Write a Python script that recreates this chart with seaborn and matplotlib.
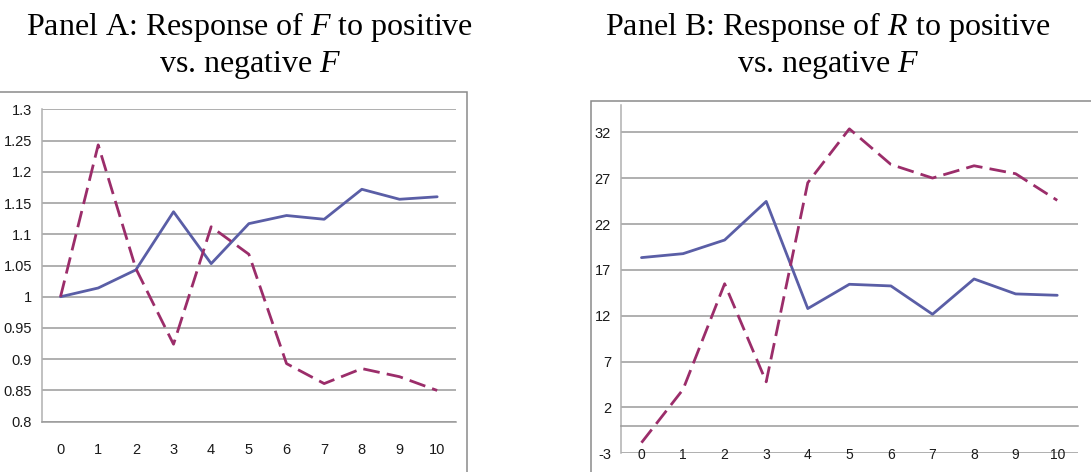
import matplotlib
matplotlib.use("Agg")
import matplotlib.pyplot as plt
from matplotlib.patches import Rectangle
import pandas as pd
import seaborn as sns

# horizon (periods after the shock)
periods = list(range(11))

# Panel A: response of F
f_pos = [1.0, 1.014, 1.043, 1.136, 1.053, 1.117, 1.130, 1.124, 1.172, 1.156, 1.160]
f_neg = [1.0, 1.243, 1.045, 0.924, 1.112, 1.068, 0.893, 0.861, 0.885, 0.872, 0.850]

# Panel B: response of R
r_pos = [18.35, 18.78, 20.27, 24.48, 12.79, 15.44, 15.26, 12.17, 16.02, 14.39, 14.24]
r_neg = [-1.84, 3.97, 15.5, 4.8, 26.52, 32.4, 28.51, 27.03, 28.37, 27.5, 24.6]

titles = ["Panel A: Response of $\\mathit{F}$ to positive\nvs. negative $\\mathit{F}$",
          "Panel B: Response of $\\mathit{R}$ to positive\nvs. negative $\\mathit{F}$"]

sns.set_style("white")
plt.rcParams['font.family'] = ['Liberation Sans Narrow', 'Liberation Sans', 'DejaVu Sans']
plt.rcParams['mathtext.fontset'] = 'custom'
plt.rcParams['mathtext.it'] = 'Liberation Serif:italic'
plt.rcParams['mathtext.rm'] = 'Liberation Serif'
plt.rcParams['text.color'] = 'black'
plt.rcParams['xtick.labelcolor'] = '#1a1a1a'
plt.rcParams['ytick.labelcolor'] = '#1a1a1a'

pal = {"pos": "#5A5EA6", "neg": "#9B2D6A"}
dash = {"pos": "", "neg": (6, 2.6)}
grid_c = "#9a9a9a"

W, H = 1091, 472
fig = plt.figure(figsize=(W / 100, H / 100), dpi=100)

# frames around the two chart objects
fig.patches.append(Rectangle((-5 / W, -5 / H), 472 / W, (H - 92 + 5) / H, transform=fig.transFigure,
                             fill=False, edgecolor="#8a8a8a", lw=1.1))
fig.patches.append(Rectangle((590.7 / W, -5 / H), 520 / W, (H - 101 + 5) / H, transform=fig.transFigure,
                             fill=False, edgecolor="#8a8a8a", lw=1.1))


def make_df(pos, neg):
    return pd.DataFrame({
        "period": periods + periods,
        "value": pos + neg,
        "shock": ["pos"] * len(pos) + ["neg"] * len(neg),
    })


def style_axis(ax, yticks, ylim):
    ax.set_xlim(-0.5, 10.5)
    ax.set_ylim(*ylim)
    ax.set_yticks(yticks)
    ax.set_yticklabels([f"{t:g}" for t in yticks], fontsize=10.5)
    ax.set_xticks(periods)
    ax.set_xticklabels([str(p) for p in periods], fontsize=10.5)
    ax.set_xticks([p - 0.5 for p in periods] + [10.5], minor=True)
    ax.tick_params(axis="x", which="major", length=0, pad=15)
    ax.tick_params(axis="x", which="minor", length=5, color=grid_c, width=1)
    ax.tick_params(axis="y", length=4, color=grid_c, width=1, pad=3)
    for t in yticks:
        ax.axhline(t, color=grid_c, lw=1.1, zorder=0)
    for s in ["top", "right"]:
        ax.spines[s].set_visible(False)
    ax.spines["left"].set_color("#b0b0b0")
    ax.spines["bottom"].set_color(grid_c)
    ax.spines["left"].set_linewidth(1.1)
    ax.spines["bottom"].set_linewidth(1.1)
    ax.set_xlabel("")
    ax.set_ylabel("")


# Panel A
ax1 = fig.add_axes([41.7 / W, (H - 421.7) / H, 414.3 / W, 312.4 / H])
sns.lineplot(data=make_df(f_pos, f_neg), x="period", y="value", hue="shock", style="shock",
             palette=pal, dashes=dash, linewidth=2, legend=False, ax=ax1)
style_axis(ax1, [0.8, 0.85, 0.9, 0.95, 1, 1.05, 1.1, 1.15, 1.2, 1.25, 1.3], (0.8, 1.3))

# Panel B
ax2 = fig.add_axes([620.7 / W, (H - 453.3) / H, 457.3 / W, 348.3 / H])
sns.lineplot(data=make_df(r_pos, r_neg), x="period", y="value", hue="shock", style="shock",
             palette=pal, dashes=dash, linewidth=2, legend=False, ax=ax2)
style_axis(ax2, [-3, 2, 7, 12, 17, 22, 27, 32], (-3, 35))
ax2.spines["bottom"].set_position(("data", 0))
ax2.tick_params(axis="x", which="major", pad=16)

# titles
fig.text(250 / W, 1 - 10 / H, titles[0], ha="center", va="top", fontsize=23,
         family="Liberation Serif", linespacing=1.22, color="black")
fig.text(828 / W, 1 - 10 / H, titles[1], ha="center", va="top", fontsize=23,
         family="Liberation Serif", linespacing=1.22, color="black")

fig.savefig("out.png", dpi=100)
